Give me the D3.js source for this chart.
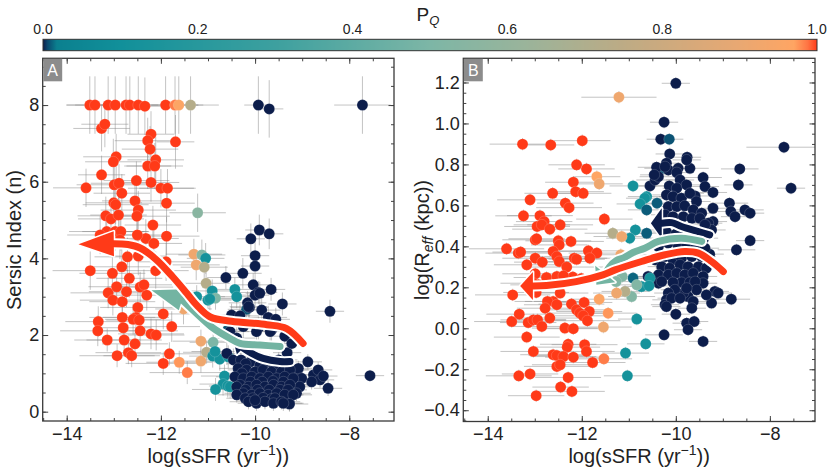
<!DOCTYPE html>
<html>
<head>
<meta charset="utf-8">
<script src="https://cdn.jsdelivr.net/npm/d3@7"></script>
<style>
  body { margin: 0; background: #fff; }
  svg { font-family: "Liberation Sans", Arial, sans-serif; }
</style>
</head>
<body>
<div id="chart"></div>
<script>
// colour map for P_Q
const cmapStops  = [0, 0.006, 0.018, 0.1, 0.3, 0.5, 0.62, 0.75, 0.9, 0.97, 0.988, 1];
const cmapColors = ["#0c1d4b", "#0b4a6f", "#0b808f", "#11909a", "#3da09f", "#7db6a6",
                    "#99b49b", "#bdab85", "#e9a872", "#ffa563", "#ff7443", "#ff3a18"];
const cbarTicks = [0, 0.2, 0.4, 0.6, 0.8, 1.0];

// shared x ticks
const xMajor = [-14, -12, -10, -8];
const xMinor = d3.range(-14.5, -7.4, 0.5);
// panel A ticks
const aMajor = [0, 2, 4, 6, 8];
const aMinor = d3.range(0, 9.1, 0.5);
// panel B ticks
const bMajor = [-0.4, -0.2, 0.0, 0.2, 0.4, 0.6, 0.8, 1.0, 1.2];
const bMinor = d3.range(-0.45, 1.31, 0.05);

// panel A: [log sSFR, Sersic n, P_Q, xerr, yerr]
const ptsA = [
  [-13.51,8.0,1,0.5,0.75],[-13.40,8.0,1,0.6,0.75],[-13.12,8.0,1,0.7,0.75],[-12.97,8.0,1,0.6,0.75],
  [-12.74,8.0,1,0.5,0.75],[-12.66,8.0,1,0.6,0.75],[-12.48,8.0,1,0.7,0.75],[-12.34,7.97,1,0.6,0.75],
  [-11.90,8.0,1,0.8,0.75],[-11.70,8.0,0.985,0.5,0.75],[-11.62,8.0,0.96,0.4,0.75],[-11.37,8.0,0.72,0.6,0.75],
  [-9.93,8.0,0,0.3,0.75],[-9.70,7.9,0,0.3,0.75],[-7.72,8.0,0,0.6,0.75],
  [-13.26,7.39,1,0.6,0.6],[-13.19,7.5,1,0.5,0.6],[-11.69,7.04,1,0.4,0.7],[-12.21,7.24,1,0.5,0.6],
  [-12.28,7.07,1,0.7,0.6],[-12.23,6.85,1,0.6,0.6],[-12.95,6.65,1,0.7,0.6],[-13.01,6.52,1,0.6,0.6],
  [-12.11,6.57,1,0.6,0.6],[-12.28,6.41,1,0.5,0.6],[-12.13,6.41,1,0.6,0.6],[-13.26,6.18,1,0.5,0.5],
  [-13.59,5.84,1,0.7,0.5],[-12.99,5.92,1,0.8,0.5],[-12.89,5.96,1,0.6,0.5],[-12.52,6.03,1,0.7,0.5],
  [-12.21,5.98,1,0.6,0.5],[-12.0,5.83,1,0.7,0.5],[-11.86,5.83,1,0.6,0.5],[-12.83,5.7,1,0.6,0.5],
  [-12.55,5.5,1,0.7,0.5],[-13.0,5.45,1,0.6,0.5],[-12.96,5.4,1,0.7,0.5],[-12.48,5.26,1,0.8,0.5],
  [-11.88,5.44,1,0.6,0.5],[-13.17,5.11,1,0.6,0.5],[-13.06,5.03,1,0.7,0.5],[-12.90,5.13,1,0.6,0.5],
  [-12.51,5.1,1,0.7,0.5],[-12.17,4.87,1,0.6,0.5],[-13.15,4.70,1,0.8,0.5],[-12.97,4.70,1,0.7,0.5],
  [-12.85,4.70,1,0.6,0.5],[-12.32,4.52,1,0.7,0.5],[-12.50,4.61,1,0.6,0.5],[-11.88,4.58,1,0.7,0.5],
  [-12.15,4.39,1,0.6,0.5],[-13.29,4.61,1,0.7,0.5],[-12.87,4.48,1,0.6,0.5],[-12.71,4.04,1,0.7,0.5],
  [-12.48,4.06,1,0.6,0.5],[-13.50,3.68,1,0.8,0.5],[-13.03,3.61,1,0.7,0.5],[-12.83,3.78,1,0.6,0.5],
  [-12.67,3.48,1,0.7,0.5],[-12.11,3.68,1,0.7,0.5],[-11.89,3.91,1,0.6,0.5],[-13.12,3.10,1,0.8,0.4],
  [-13.02,2.91,1,0.7,0.4],[-12.94,3.26,1,0.6,0.4],[-12.82,2.87,1,0.7,0.4],[-12.73,3.13,1,0.8,0.4],
  [-12.44,3.25,1,0.7,0.4],[-12.36,3.31,1,0.6,0.4],[-12.30,3.04,1,0.7,0.4],[-12.49,2.72,1,0.8,0.4],
  [-12.53,2.46,1,0.7,0.4],[-12.59,2.41,1,0.6,0.4],[-12.46,2.39,1,0.7,0.4],[-11.95,2.55,1,0.7,0.4],
  [-11.77,2.22,1,0.6,0.4],[-13.33,2.35,1,0.7,0.4],[-13.34,2.11,1,0.8,0.4],[-12.82,2.46,1,0.7,0.4],
  [-12.80,2.19,1,0.6,0.4],[-12.44,2.11,1,0.8,0.4],[-12.21,2.03,1,0.7,0.4],[-12.10,2.0,1,0.6,0.4],
  [-13.14,1.87,1,0.7,0.3],[-12.78,1.87,1,0.8,0.3],[-12.55,1.77,1,0.7,0.3],[-12.93,1.46,1,0.8,0.3],
  [-12.69,1.54,1,0.7,0.3],[-12.62,1.46,1,0.6,0.3],[-11.82,1.51,1,0.7,0.3],[-11.95,1.26,1,0.8,0.3],
  [-11.61,1.29,0.975,0.7,0.3],[-11.44,1.02,0.985,0.8,0.3],
  [-11.52,2.68,0.92,0.6,0.4],[-11.15,1.84,0.92,0.6,0.3],[-11.15,1.32,0.92,0.6,0.3],[-11.03,1.55,0.72,0.5,0.3],
  [-11.30,4.11,0.92,0.6,0.4],[-11.13,4.09,0.52,0.5,0.4],[-11.05,4.0,0.12,0.4,0.4],[-11.25,3.83,0.92,0.5,0.4],
  [-11.08,3.77,0.72,0.5,0.4],[-11.04,3.35,0.72,0.5,0.4],[-11.22,5.19,0.55,0.6,0.5],
  [-10.91,3.15,0.12,0.5,0.3],[-10.84,2.96,0.5,0.5,0.3],[-11.0,2.91,0.12,0.5,0.3],[-10.96,2.94,0.12,0.5,0.3],
  [-11.24,3.0,0.12,0.6,0.3],[-10.89,1.81,0.5,0.5,0.3],[-10.90,1.45,0.12,0.5,0.3],[-10.75,1.37,0.12,0.5,0.3],
  [-10.85,1.57,0.12,0.5,0.3],[-10.57,1.43,0.12,0.4,0.3],[-10.65,0.93,0.12,0.5,0.3],[-10.68,0.72,0.12,0.5,0.3],
  [-10.58,0.67,0.12,0.4,0.3],[-10.84,0.58,0.12,0.5,0.3],[-10.53,0.65,0.12,0.4,0.3],[-10.43,3.19,0.12,0.5,0.3],
  [-10.39,3.0,0.12,0.5,0.3],[-10.18,2.67,0.008,0.4,0.3],[-10.58,2.13,0.008,0.4,0.3],
  [-10.09,4.51,0,0.3,0.4],[-9.91,4.74,0,0.3,0.4],[-9.70,4.64,0,0.3,0.4],[-10.0,4.07,0,0.3,0.4],
  [-10.0,3.80,0,0.3,0.4],[-10.26,3.61,0,0.4,0.4],[-10.62,3.50,0,0.4,0.3],[-10.04,3.31,0,0.4,0.3],
  [-9.93,3.11,0,0.4,0.3],[-10.0,3.04,0,0.3,0.3],[-9.90,3.09,0,0.3,0.3],[-9.66,3.19,0,0.3,0.3],
  [-10.16,2.84,0,0.4,0.3],[-10.12,2.72,0,0.4,0.3],[-9.86,2.65,0,0.4,0.3],[-9.42,2.81,0,0.3,0.3],
  [-10.50,2.52,0,0.4,0.3],[-10.32,2.50,0,0.4,0.3],[-9.72,2.46,0,0.4,0.3],[-9.56,2.41,0,0.3,0.3],
  [-8.41,2.62,0,0.3,0.3],[-10.14,2.74,0,0.4,0.3],[-10.25,2.22,0,0.4,0.3],[-9.93,2.18,0,0.4,0.3],
  [-9.65,2.13,0,0.4,0.3],[-9.37,1.97,0,0.3,0.3],[-9.32,1.54,0,0.3,0.3],[-9.22,1.78,0,0.3,0.3],
  [-10.53,2.09,0,0.4,0.3],[-10.39,1.92,0,0.4,0.3],[-9.97,2.09,0,0.4,0.3],[-9.68,2.09,0,0.4,0.3],
  [-10.60,1.52,0,0.4,0.3],[-10.46,1.35,0,0.4,0.3],
  [-8.88,1.30,0,0.3,0.2],[-8.76,0.96,0,0.3,0.2],[-8.66,1.09,0,0.3,0.2],[-8.62,0.83,0,0.3,0.2],
  [-8.80,0.78,0,0.3,0.2],[-8.45,0.61,0,0.3,0.2],[-8.55,0.93,0,0.3,0.2],[-9.19,0.70,0,0.3,0.2],
  [-9.10,0.96,0,0.3,0.2],[-9.27,0.22,0,0.3,0.2],[-7.56,0.94,0,0.3,0.15],[-9.08,1.13,0,0.3,0.2],
  [-9.01,0.87,0,0.3,0.2],[-9.05,0.65,0,0.3,0.2],[-9.12,0.48,0,0.3,0.2],[-9.29,0.44,0,0.3,0.2],
  [-10.30,1.35,0,0.4,0.2],[-10.10,1.30,0,0.4,0.2],[-9.90,1.38,0,0.4,0.2],[-9.70,1.30,0,0.4,0.2],[-9.50,1.35,0,0.4,0.2],
  [-10.20,1.25,0,0.4,0.2],[-9.90,1.20,0,0.4,0.2],[-9.60,1.20,0,0.4,0.2],[-9.40,1.22,0,0.4,0.2],
  [-10.36,1.13,0,0.4,0.2],[-10.18,1.09,0,0.4,0.2],[-10.0,1.04,0,0.4,0.2],[-9.83,1.09,0,0.4,0.2],
  [-9.65,1.04,0,0.4,0.2],[-9.44,1.04,0,0.4,0.2],[-9.26,1.09,0,0.4,0.2],[-10.28,1.0,0,0.4,0.2],
  [-10.43,0.91,0,0.4,0.2],[-10.25,0.87,0,0.4,0.2],[-10.07,0.91,0,0.4,0.2],[-9.90,0.87,0,0.4,0.2],
  [-9.72,0.91,0,0.4,0.2],[-9.54,0.87,0,0.4,0.2],[-9.37,0.91,0,0.4,0.2],[-9.19,0.87,0,0.4,0.2],
  [-10.10,0.78,0,0.4,0.2],[-9.85,0.78,0,0.4,0.2],[-9.62,0.80,0,0.4,0.2],[-9.40,0.78,0,0.4,0.2],
  [-10.32,0.70,0,0.4,0.2],[-10.14,0.65,0,0.4,0.2],[-9.97,0.70,0,0.4,0.2],[-9.79,0.65,0,0.4,0.2],
  [-9.61,0.70,0,0.4,0.2],[-9.44,0.65,0,0.4,0.2],[-9.26,0.70,0,0.4,0.2],[-10.39,0.65,0,0.4,0.2],
  [-10.20,0.57,0,0.4,0.2],[-9.95,0.57,0,0.4,0.2],[-9.70,0.57,0,0.4,0.2],[-9.47,0.57,0,0.4,0.2],[-9.30,0.57,0,0.4,0.2],
  [-10.25,0.48,0,0.4,0.2],[-10.07,0.44,0,0.4,0.2],[-9.90,0.48,0,0.4,0.2],[-9.72,0.44,0,0.4,0.2],
  [-9.54,0.48,0,0.4,0.2],[-9.37,0.44,0,0.4,0.2],[-9.19,0.44,0,0.4,0.2],[-10.39,0.44,0,0.4,0.2],
  [-10.21,0.35,0,0.4,0.2],[-10.05,0.35,0,0.4,0.2],[-9.83,0.36,0,0.4,0.2],[-9.65,0.33,0,0.4,0.2],[-9.58,0.35,0,0.4,0.2],
  [-10.14,0.26,0,0.4,0.2],[-9.97,0.22,0,0.4,0.2],[-9.79,0.26,0,0.4,0.2],[-9.61,0.22,0,0.4,0.2],
  [-9.44,0.26,0,0.4,0.2],[-9.27,0.20,0,0.4,0.2],[-10.0,0.30,0,0.4,0.2],[-9.40,0.22,0,0.4,0.2]
];

// panel B: [log sSFR, log R_eff, P_Q, xerr, yerr]
const ptsB = [
  [-10.0,1.196,0,0.3,0.03],[-11.21,1.128,0.92,0.8,0.03],[-10.25,1.006,0,0.3,0.03],[-10.32,0.923,0,0.3,0.03],
  [-10.14,0.923,0.008,0.3,0.03],[-13.26,0.899,1,0.7,0.03],[-12.66,0.895,1,0.5,0.03],[-11.99,0.916,1,0.6,0.03],
  [-7.70,0.884,0,0.8,0.03],[-7.55,0.684,0,0.3,0.03],[-10.13,0.851,0,0.3,0.03],[-9.76,0.835,0,0.3,0.03],
  [-12.11,0.798,1,0.6,0.03],[-11.90,0.778,1,0.6,0.03],[-11.68,0.740,0.97,0.5,0.03],[-11.63,0.705,0.92,0.5,0.03],
  [-12.18,0.713,1,0.6,0.03],[-12.13,0.667,1,0.6,0.03],[-11.97,0.659,1,0.6,0.03],[-12.62,0.659,1,0.6,0.03],
  [-12.35,0.611,1,0.6,0.03],[-12.27,0.589,1,0.7,0.03],[-13.10,0.627,1,0.7,0.03],[-13.24,0.549,1,0.6,0.03],
  [-12.89,0.550,1,0.7,0.03],[-12.80,0.521,1,0.6,0.03],[-12.95,0.497,1,0.7,0.03],[-12.85,0.505,1,0.6,0.03],
  [-12.68,0.484,1,0.8,0.03],[-12.46,0.505,1,0.7,0.03],[-11.52,0.533,1,0.6,0.03],[-13.60,0.388,1,0.8,0.03],
  [-13.35,0.367,1,0.7,0.03],[-13.30,0.372,1,0.6,0.03],[-12.99,0.432,1,0.7,0.03],[-12.96,0.437,1,0.6,0.03],
  [-12.50,0.427,1,0.7,0.03],[-12.48,0.407,1,0.6,0.03],[-12.23,0.424,1,0.7,0.03],[-12.61,0.375,1,0.8,0.03],
  [-12.53,0.350,1,0.7,0.03],[-12.48,0.326,1,0.6,0.03],[-12.99,0.342,1,0.7,0.03],[-12.84,0.323,1,0.6,0.03],
  [-12.16,0.342,1,0.7,0.03],[-12.11,0.337,1,0.6,0.03],[-11.86,0.378,1,0.7,0.03],[-11.68,0.367,1,0.6,0.03],
  [-11.83,0.342,1,0.7,0.03],[-13.17,0.310,1,0.7,0.03],[-12.32,0.299,1,0.8,0.03],
  [-12.19,0.250,1,0.6,0.03],[-12.99,0.266,1,0.7,0.03],[-12.75,0.248,1,0.7,0.03],[-12.53,0.253,1,0.6,0.03],
  [-12.39,0.256,1,0.7,0.03],[-13.03,0.220,1,0.7,0.03],[-12.92,0.212,1,0.6,0.03],[-12.01,0.243,1,0.7,0.03],
  [-13.47,0.163,1,0.8,0.03],[-12.97,0.175,1,0.7,0.03],[-12.61,0.131,1,0.6,0.03],[-12.73,0.131,1,0.7,0.03],
  [-12.78,0.098,1,0.6,0.03],[-12.53,0.115,1,0.7,0.03],[-12.46,0.172,1,0.6,0.03],[-12.22,0.118,1,0.7,0.03],
  [-12.11,0.090,1,0.6,0.03],[-12.04,0.074,1,0.7,0.03],[-11.95,0.126,1,0.6,0.03],[-11.84,0.082,1,0.7,0.03],
  [-11.97,0.061,1,0.6,0.03],[-11.88,0.037,1,0.7,0.03],[-13.49,0.033,1,0.8,0.03],[-13.33,0.069,1,0.7,0.03],
  [-13.14,0.028,1,0.6,0.03],[-13.03,0.041,1,0.7,0.03],[-12.94,0.041,1,0.6,0.03],[-12.85,0.009,1,0.7,0.03],
  [-12.68,0.050,1,0.8,0.03],[-12.36,0.001,1,0.7,0.03],[-12.18,-0.002,1,0.6,0.03],[-13.17,-0.043,1,0.7,0.03],
  [-13.03,-0.113,1,0.7,0.03],[-12.29,-0.078,1,0.6,0.03],[-12.31,-0.092,1,0.7,0.03],[-12.61,-0.129,1,0.7,0.03],
  [-12.53,-0.133,1,0.6,0.03],[-12.39,-0.138,1,0.7,0.03],[-12.18,-0.141,1,0.6,0.03],[-11.94,-0.080,1,0.7,0.03],
  [-11.90,-0.113,1,0.6,0.03],[-11.77,-0.167,1,0.7,0.03],[-12.53,-0.186,1,0.7,0.03],[-12.46,-0.178,1,0.6,0.03],
  [-13.34,-0.232,1,0.7,0.03],[-13.10,-0.223,1,0.6,0.03],[-12.29,-0.240,1,0.7,0.03],[-12.45,-0.287,1,0.6,0.03],
  [-12.21,-0.308,1,0.7,0.03],[-12.97,-0.329,1,0.6,0.03],
  [-10.91,0.695,0.12,0.5,0.03],[-10.62,0.643,0.12,0.4,0.03],[-10.66,0.635,0.12,0.4,0.03],[-10.76,0.607,0.12,0.5,0.03],
  [-10.62,0.578,0.01,0.4,0.03],[-10.86,0.480,0.12,0.5,0.03],[-10.62,0.464,0.01,0.4,0.03],[-10.98,0.440,0.12,0.5,0.03],
  [-11.34,0.464,0.72,0.6,0.03],[-11.15,0.448,0.92,0.6,0.03],[-11.17,0.359,0.92,0.6,0.03],[-10.40,0.611,0.01,0.4,0.03],
  [-10.27,0.781,0.01,0.4,0.03],
  [-10.55,0.695,0,0.4,0.03],[-10.44,0.724,0,0.4,0.03],[-10.37,0.740,0,0.4,0.03],[-10.41,0.786,0,0.4,0.03],
  [-10.20,0.806,0,0.3,0.03],[-10.16,0.773,0,0.3,0.03],[-9.95,0.781,0,0.3,0.03],[-9.70,0.781,0,0.4,0.03],
  [-9.77,0.822,0,0.3,0.03],[-9.42,0.736,0,0.4,0.03],[-9.38,0.692,0,0.3,0.03],[-9.21,0.663,0,0.3,0.03],
  [-8.86,0.611,0,0.4,0.03],[-8.83,0.570,0,0.4,0.03],[-8.74,0.545,0,0.3,0.03],[-8.67,0.700,0,0.3,0.03],
  [-8.64,0.778,0,0.4,0.03],[-8.53,0.578,0,0.4,0.03],[-8.42,0.562,0,0.3,0.03],[-8.42,0.428,0,0.3,0.03],
  [-8.71,0.383,0,0.4,0.03],[-9.21,0.521,0,0.3,0.03],[-9.31,0.513,0,0.3,0.03],[-9.24,0.480,0,0.3,0.03],
  [-10.23,0.789,0,0.3,0.03],[-10.46,0.749,0,0.3,0.03],[-9.98,0.760,0,0.3,0.03],[-9.91,0.724,0,0.3,0.03],
  [-10.14,0.695,0,0.3,0.03],[-9.98,0.684,0,0.3,0.03],[-9.77,0.700,0,0.3,0.03],[-9.59,0.646,0,0.3,0.03],
  [-10.20,0.651,0,0.3,0.03],[-10.06,0.643,0,0.3,0.03],[-9.88,0.635,0,0.3,0.03],[-9.70,0.659,0,0.3,0.03],
  [-9.56,0.619,0,0.3,0.03],[-10.16,0.594,0,0.3,0.03],[-9.98,0.594,0,0.3,0.03],[-9.81,0.598,0,0.3,0.03],
  [-9.63,0.578,0,0.3,0.03],[-9.45,0.562,0,0.3,0.03],[-9.21,0.586,0,0.3,0.03],[-10.23,0.554,0,0.3,0.03],
  [-10.06,0.545,0,0.3,0.03],[-9.84,0.545,0,0.3,0.03],[-9.66,0.537,0,0.3,0.03],[-9.49,0.537,0,0.3,0.03],
  [-9.38,0.505,0,0.3,0.03],[-9.28,0.362,0,0.3,0.03],
  [-10.20,0.470,0,0.3,0.03],[-10.00,0.460,0,0.3,0.03],[-9.80,0.470,0,0.3,0.03],[-9.60,0.460,0,0.3,0.03],[-9.40,0.440,0,0.3,0.03],
  [-10.37,0.399,0,0.3,0.03],[-10.16,0.416,0,0.3,0.03],[-9.95,0.399,0,0.3,0.03],[-9.77,0.407,0,0.3,0.03],
  [-9.59,0.391,0,0.3,0.03],[-9.38,0.391,0,0.3,0.03],[-10.44,0.334,0,0.3,0.03],[-10.23,0.350,0,0.3,0.03],
  [-10.06,0.334,0,0.3,0.03],[-9.88,0.342,0,0.3,0.03],[-9.66,0.350,0,0.3,0.03],[-9.45,0.350,0,0.3,0.03],
  [-10.30,0.301,0,0.3,0.03],[-10.13,0.294,0,0.3,0.03],[-9.91,0.310,0,0.3,0.03],[-9.74,0.301,0,0.3,0.03],
  [-9.52,0.301,0,0.3,0.03],[-9.35,0.294,0,0.3,0.03],[-10.37,0.261,0,0.3,0.03],[-10.16,0.261,0,0.3,0.03],
  [-9.98,0.269,0,0.3,0.03],[-9.81,0.261,0,0.3,0.03],[-9.63,0.269,0,0.3,0.03],[-9.88,0.224,0,0.3,0.03],
  [-10.06,0.224,0,0.3,0.03],[-9.70,0.224,0,0.3,0.03],
  [-8.82,0.142,0,0.4,0.03],[-9.24,0.123,0,0.3,0.03],[-9.17,0.180,0,0.3,0.03],[-9.10,0.172,0,0.3,0.03],
  [-9.35,0.163,0,0.3,0.03],[-9.42,0.253,0,0.3,0.03],[-9.42,0.220,0,0.3,0.03],[-9.59,0.228,0,0.3,0.03],
  [-9.56,0.188,0,0.3,0.03],[-9.74,0.155,0,0.3,0.03],[-9.63,0.131,0,0.3,0.03],[-9.66,0.098,0,0.3,0.03],
  [-9.84,0.172,0,0.3,0.03],[-9.77,0.196,0,0.3,0.03],[-10.02,0.188,0,0.3,0.03],[-10.16,0.172,0,0.3,0.03],
  [-10.20,0.139,0,0.3,0.03],[-10.23,0.115,0,0.3,0.03],[-10.09,0.147,0,0.3,0.03],[-10.0,0.069,0,0.3,0.03],
  [-9.91,0.147,0,0.3,0.03],[-10.20,0.106,0,0.3,0.03],
  [-9.77,0.025,0,0.3,0.03],[-9.61,0.033,0,0.3,0.03],[-9.74,-0.007,0,0.3,0.03],[-9.42,-0.064,0,0.3,0.03],
  [-10.25,-0.032,0,0.4,0.03],[-10.37,0.220,0,0.3,0.03],[-10.30,0.228,0,0.3,0.03],[-10.59,0.253,0,0.4,0.03],
  [-10.55,0.245,0.12,0.4,0.03],[-10.73,0.204,0.12,0.4,0.03],[-10.91,0.245,0.012,0.4,0.03],[-10.57,0.207,0.12,0.4,0.03],
  [-10.83,0.045,0.12,0.4,0.03],[-10.64,-0.076,0.12,0.4,0.03],[-11.07,-0.121,0.12,0.5,0.03],[-11.03,-0.232,0.12,0.5,0.03],
  [-11.14,0.253,0.52,0.5,0.03],[-11.27,0.228,0.52,0.5,0.03],[-10.83,0.212,0.52,0.5,0.03],[-10.94,0.155,0.52,0.5,0.03],
  [-11.08,0.180,0.72,0.5,0.03],[-11.26,0.172,0.92,0.5,0.03],[-11.63,0.142,0.96,0.6,0.03],[-11.44,0.074,0.975,0.6,0.03],
  [-11.54,0.006,0.92,0.6,0.03],[-11.53,-0.149,0.985,0.6,0.03]
];

// evolution arrows: path (tail -> head base), tip, colour, head width (px)
const arrowsA = [
  {path: [[-9.26,1.31],[-9.47,1.31],[-9.83,1.39],[-10.07,1.52],[-10.25,1.66]], tip: [-10.48,1.95], color: "#0c1d4b", head: 18},
  {path: [[-9.47,1.70],[-9.90,1.74],[-10.32,1.78],[-10.53,1.91],[-10.89,2.18],[-11.17,2.48],[-11.55,2.92]], tip: [-12.2,3.17], color: "#73b4a2", head: 22},
  {path: [[-8.98,1.78],[-9.33,2.17],[-9.75,2.27],[-10.5,2.36],[-10.95,2.47],[-11.24,2.78],[-11.45,3.09],[-11.75,3.52],[-12.1,3.97],[-12.44,4.27],[-12.7,4.36],[-13.0,4.38]], tip: [-13.75,4.37], color: "#ff3a18", head: 25}
];
const arrowsB = [
  {path: [[-9.28,0.456],[-9.52,0.472],[-9.88,0.497],[-10.09,0.516],[-10.30,0.513]], tip: [-10.53,0.513], color: "#0c1d4b", head: 30},
  {path: [[-9.45,0.424],[-9.88,0.44],[-10.37,0.424],[-10.66,0.391],[-10.91,0.37],[-11.1,0.345],[-11.27,0.33],[-11.41,0.30],[-11.5,0.265]], tip: [-11.69,0.212], color: "#73b4a2", head: 26},
  {path: [[-8.99,0.277],[-9.24,0.326],[-9.52,0.367],[-9.81,0.375],[-10.23,0.359],[-10.73,0.326],[-11.29,0.285],[-11.55,0.261],[-12.12,0.228],[-12.75,0.209],[-13.04,0.207]], tip: [-13.31,0.207], color: "#ff3a18", head: 28}
];

const width = 831, height = 475;
const svg = d3.select("#chart").append("svg")
    .attr("width", width)
    .attr("height", height);

const color = d3.scaleLinear().domain(cmapStops).range(cmapColors).clamp(true);

//colorbar
const cb = {l: 43, r: 817, t: 39.3, b: 50.7};
const cbScale = d3.scaleLinear().domain([0, 1]).range([cb.l, cb.r]);
const grad = svg.append("defs").append("linearGradient")
    .attr("id", "cbgrad")
    .attr("x1", "0%").attr("x2", "100%").attr("y1", "0%").attr("y2", "0%");
d3.range(0, 1.0001, 0.002).forEach(v => {
    grad.append("stop").attr("offset", (v * 100) + "%").attr("stop-color", color(v));
});
svg.append("rect")
    .attr("x", cb.l).attr("y", cb.t)
    .attr("width", cb.r - cb.l).attr("height", cb.b - cb.t)
    .attr("fill", "url(#cbgrad)")
    .attr("stroke", "#333").attr("stroke-width", 1);
svg.append("g").selectAll("text")
    .data(cbarTicks)
    .join("text")
    .attr("x", d => cbScale(d))
    .attr("y", 34)
    .attr("text-anchor", "middle")
    .attr("font-size", "14px")
    .attr("fill", "#222")
    .text(d => d.toFixed(1));
const pq = svg.append("text")
    .attr("x", 428).attr("y", 21)
    .attr("text-anchor", "middle")
    .attr("font-size", "19px")
    .attr("fill", "#222");
pq.append("tspan").text("P");
pq.append("tspan").attr("font-size", "13px").attr("font-style", "italic").attr("dy", "4").text("Q");

function drawPanel(cfg) {
    const {x, y, pts, arrows, id, letter} = cfg;
    const [x0, x1] = x.range();
    const [y0, y1] = y.range(); // y0 bottom, y1 top
    const g = svg.append("g");

    g.append("clipPath").attr("id", "clip" + id)
        .append("rect").attr("x", x0).attr("y", y1).attr("width", x1 - x0).attr("height", y0 - y1);
    const plot = g.append("g").attr("clip-path", `url(#clip${id})`);

    // error bars
    const bars = plot.append("g")
        .attr("stroke", "#8a8a8a")
        .attr("stroke-opacity", 0.5)
        .attr("stroke-width", 1);
    bars.selectAll(".xe").data(pts).join("line")
        .attr("class", "xe")
        .attr("x1", d => x(d[0] - d[3])).attr("x2", d => x(d[0] + d[3]))
        .attr("y1", d => y(d[1])).attr("y2", d => y(d[1]));
    bars.selectAll(".ye").data(pts).join("line")
        .attr("class", "ye")
        .attr("x1", d => x(d[0])).attr("x2", d => x(d[0]))
        .attr("y1", d => y(d[1] - d[4])).attr("y2", d => y(d[1] + d[4]));

    // points
    plot.append("g").selectAll("circle")
        .data(pts)
        .join("circle")
        .attr("cx", d => x(d[0]))
        .attr("cy", d => y(d[1]))
        .attr("r", 5.5)
        .attr("fill", d => color(d[2]))
        .attr("stroke", "rgba(255,255,255,0.28)")
        .attr("stroke-width", 0.6);

    // arrows
    const makeLine = d3.line()
        .curve(d3.curveCatmullRom)
        .x(d => x(d[0]))
        .y(d => y(d[1]));
    arrows.forEach(a => {
        const end = a.path[a.path.length - 1];
        const bx = x(end[0]), by = y(end[1]);
        const tx = x(a.tip[0]), ty = y(a.tip[1]);
        const L = Math.hypot(tx - bx, ty - by);
        const nx = -(ty - by) / L * a.head / 2, ny = (tx - bx) / L * a.head / 2;
        const head = [[tx, ty], [bx + nx, by + ny], [bx - nx, by - ny]].map(p => p.join(",")).join(" ");
        plot.append("path")
            .attr("d", makeLine(a.path))
            .attr("fill", "none")
            .attr("stroke", "white")
            .attr("stroke-width", 11)
            .attr("stroke-linecap", "round")
            .attr("stroke-linejoin", "round");
        plot.append("polygon")
            .attr("points", head)
            .attr("fill", "white")
            .attr("stroke", "white")
            .attr("stroke-width", 3)
            .attr("stroke-linejoin", "round");
        plot.append("path")
            .attr("d", makeLine(a.path))
            .attr("fill", "none")
            .attr("stroke", a.color)
            .attr("stroke-width", 7)
            .attr("stroke-linecap", "round")
            .attr("stroke-linejoin", "round");
        plot.append("polygon")
            .attr("points", head)
            .attr("fill", a.color);
    });

    // axes, ticks pointing inward on all four sides
    const axes = [
        {ax: d3.axisBottom(x), tr: `translate(0,${y0})`, major: xMajor, minor: xMinor, fmt: d3.format("d"), pad: 6},
        {ax: d3.axisTop(x), tr: `translate(0,${y1})`, major: xMajor, minor: xMinor, fmt: null},
        {ax: d3.axisLeft(y), tr: `translate(${x0},0)`, major: cfg.yMajor, minor: cfg.yMinor, fmt: cfg.yFmt, pad: 3.5},
        {ax: d3.axisRight(y), tr: `translate(${x1},0)`, major: cfg.yMajor, minor: cfg.yMinor, fmt: null}
    ];
    axes.forEach(a => {
        const gMinor = g.append("g").attr("transform", a.tr)
            .call(a.ax.tickValues(a.minor).tickSize(-3).tickFormat(""));
        gMinor.select(".domain").remove();
        gMinor.selectAll("line").attr("stroke", "#444");

        const gMajor = g.append("g").attr("transform", a.tr)
            .call(a.ax.tickValues(a.major).tickSize(-5.5)
                .tickPadding(a.pad || 3)
                .tickFormat(a.fmt || ""));
        gMajor.select(".domain").remove();
        gMajor.selectAll("line").attr("stroke", "#444");
        gMajor.selectAll("text")
            .attr("font-size", "18px")
            .attr("fill", "#222")
            .attr("font-family", "Liberation Sans, Arial, sans-serif");
    });

    // frame
    g.append("rect")
        .attr("x", x0).attr("y", y1)
        .attr("width", x1 - x0).attr("height", y0 - y1)
        .attr("fill", "none")
        .attr("stroke", "#3a3a3a")
        .attr("stroke-width", 1.3);

    // panel letter
    g.append("rect")
        .attr("x", x0 + 0.5).attr("y", y1 + 0.5)
        .attr("width", 19).attr("height", 22.5)
        .attr("fill", "#8c8c8c");
    g.append("text")
        .attr("x", x0 + 10).attr("y", y1 + 17.5)
        .attr("text-anchor", "middle")
        .attr("font-size", "16px")
        .attr("fill", "white")
        .text(letter);

    // x label
    const xl = g.append("text")
        .attr("x", (x0 + x1) / 2)
        .attr("y", 463)
        .attr("text-anchor", "middle")
        .attr("font-size", "20px")
        .attr("fill", "#222");
    xl.append("tspan").text("log(sSFR (yr");
    xl.append("tspan").attr("font-size", "14px").attr("dy", "-8").text("\u22121");
    xl.append("tspan").attr("dy", "8").text("))");
    return g;
}

const xA = d3.scaleLinear().domain([-14.51, -7.05]).range([42.7, 394]);
const yA = d3.scaleLinear().domain([-0.243, 9.22]).range([421, 58.3]);
const xB = d3.scaleLinear().domain([-14.52, -7.04]).range([463.3, 815]);
const yB = d3.scaleLinear().domain([-0.455, 1.318]).range([421.5, 58.3]);

drawPanel({x: xA, y: yA, pts: ptsA, arrows: arrowsA, id: "A", letter: "A",
    yMajor: aMajor, yMinor: aMinor, yFmt: d3.format("d")});
drawPanel({x: xB, y: yB, pts: ptsB, arrows: arrowsB, id: "B", letter: "B",
    yMajor: bMajor, yMinor: bMinor, yFmt: d3.format(".1f")});

// y labels
svg.append("text")
    .attr("transform", "translate(21,240) rotate(-90)")
    .attr("text-anchor", "middle")
    .attr("font-size", "20px")
    .attr("fill", "#222")
    .text("Sersic Index (n)");
const yl = svg.append("text")
    .attr("transform", "translate(429,240) rotate(-90)")
    .attr("text-anchor", "middle")
    .attr("font-size", "20px")
    .attr("fill", "#222");
yl.append("tspan").text("log(R");
yl.append("tspan").attr("font-size", "14px").attr("font-style", "italic").attr("dy", "4").text("eff");
yl.append("tspan").attr("dy", "-4").text(" (kpc))");
</script>
</body>
</html>
